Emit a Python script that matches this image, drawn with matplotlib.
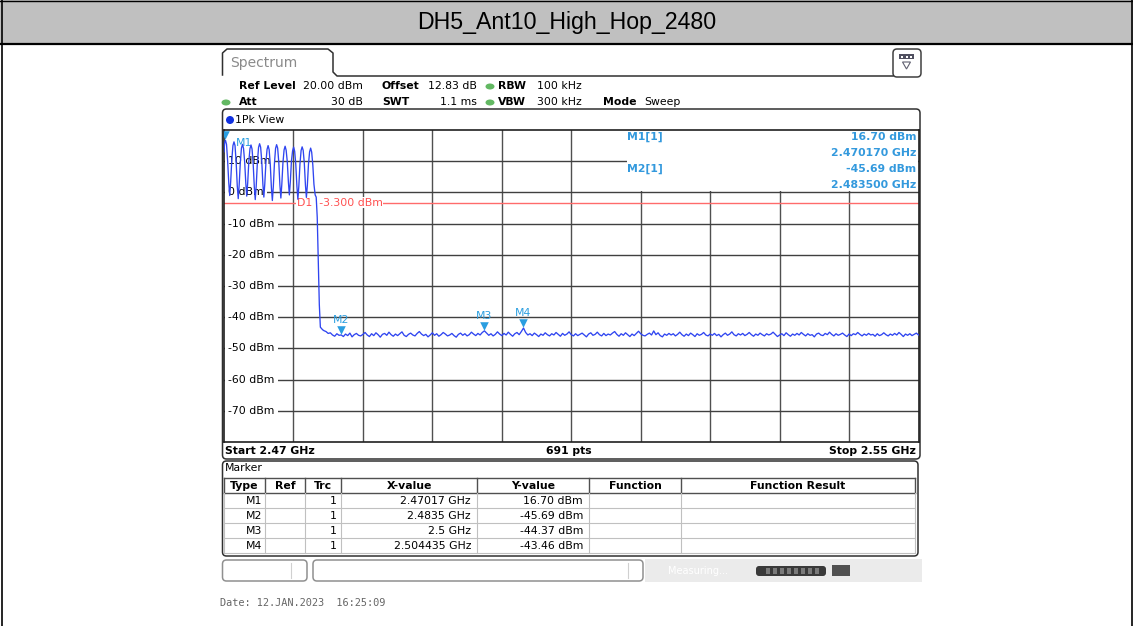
import matplotlib
matplotlib.use('Agg')
import matplotlib.pyplot as plt
import matplotlib.transforms as mtransforms
from matplotlib.patches import Rectangle, FancyBboxPatch, Ellipse, Polygon
import numpy as np

title = "DH5_Ant10_High_Hop_2480"

# sweep settings
start_ghz, stop_ghz = 2.47, 2.55
ref_level, bottom_level = 20, -80
level_ticks = [10, 0, -10, -20, -30, -40, -50, -60, -70]
d1_dbm = -3.3

# hopping channels 2470..2480 MHz, trace vertices (MHz / dBm), one row per channel
hop_mhz = [
    2470.00, 2470.07, 2470.17, 2470.29, 2470.42, 2470.55, 2470.66,
    2470.77, 2470.90, 2471.03, 2471.15, 2471.27, 2471.40, 2471.53, 2471.64,
    2471.75, 2471.88, 2472.01, 2472.13, 2472.25, 2472.38, 2472.51, 2472.62,
    2472.73, 2472.86, 2472.99, 2473.11, 2473.23, 2473.36, 2473.49, 2473.60,
    2473.71, 2473.84, 2473.98, 2474.10, 2474.22, 2474.35, 2474.48, 2474.59,
    2474.70, 2474.83, 2474.96, 2475.08, 2475.20, 2475.33, 2475.46, 2475.57,
    2475.68, 2475.81, 2475.94, 2476.06, 2476.18, 2476.31, 2476.44, 2476.55,
    2476.66, 2476.79, 2476.92, 2477.04, 2477.16, 2477.29, 2477.42, 2477.53,
    2477.64, 2477.77, 2477.90, 2478.02, 2478.14, 2478.27, 2478.40, 2478.51,
    2478.62, 2478.75, 2478.88, 2479.00, 2479.12, 2479.25, 2479.38, 2479.49,
    2479.60, 2479.73, 2479.86, 2479.98, 2480.10, 2480.23, 2480.36, 2480.50,
    2480.62, 2480.74, 2480.86, 2480.98, 2481.10, 2481.22, 2481.35]
hop_dbm = [
    13.0, 15.9, 16.7, 15.4, 10.0, 3.0, -1.0,
    3.5, 10.5, 15.0, 16.2, 15.0, 9.6, 2.0, -2.0,
    2.5, 9.6, 14.2, 15.4, 14.1, 9.8, 3.0, -1.2,
    3.1, 9.9, 14.0, 15.2, 13.9, 9.2, 1.8, -2.3,
    2.0, 9.4, 14.4, 15.6, 14.5, 10.0, 2.6, -1.5,
    2.8, 9.7, 13.8, 15.0, 13.7, 9.0, 1.5, -2.6,
    1.8, 9.3, 14.1, 15.3, 14.2, 9.7, 2.3, -1.8,
    2.6, 9.5, 13.6, 14.8, 13.5, 9.8, 3.2, -0.8,
    3.4, 10.1, 13.3, 14.5, 13.2, 8.9, 1.9, -2.2,
    2.0, 9.1, 13.4, 14.6, 13.5, 9.4, 2.4, -1.6,
    2.2, 9.0, 13.0, 14.2, 12.9, 8.8, 2.6, -0.8,
    -1.5, -8.0, -22.0, -36.0, -43.2, -43.6, -44.0]

# noise floor above the band, one reading every 0.25 MHz from 2481.5 MHz
noise_start_mhz = 2481.5
noise_step_mhz = 0.25
noise_dbm = [
    -44.3, -44.6, -45.2, -45.0, -45.7, -46.1, -45.3, -45.8, -45.69, -46.2,
    -45.4, -45.9, -45.1, -46.3, -45.6, -45.2, -45.8, -46.0, -45.5, -44.9,
    -45.7, -46.2, -45.3, -45.9, -45.0, -45.6, -46.4, -45.5, -45.2, -45.8,
    -44.8, -45.6, -46.1, -45.4, -45.9, -45.3, -44.7, -45.8, -46.2, -45.5,
    -45.1, -45.7, -46.0, -45.2, -44.6, -45.4, -45.9, -45.5, -46.3, -45.7,
    -45.0, -45.8, -45.3, -46.1, -45.6, -44.9, -45.4, -46.0, -45.7, -45.2,
    -45.9, -46.4, -45.5, -45.1, -45.8, -45.3, -46.0, -45.6, -44.8, -45.4,
    -45.9, -45.2, -45.7, -44.9, -44.37, -45.1, -45.8, -45.3, -46.0, -45.5,
    -44.7, -45.4, -45.9, -45.2, -45.7, -44.8, -45.5, -46.1, -45.3, -44.9,
    -45.6, -44.6, -43.46, -44.9, -45.7, -45.3, -45.9, -45.1, -45.6, -46.2,
    -45.4, -45.8, -45.0, -45.6, -46.0, -45.3, -45.7, -44.9, -45.5, -46.1,
    -45.2, -45.8, -45.4, -44.7, -45.6, -46.0, -45.3, -45.9, -45.5, -45.1,
    -45.7, -46.3, -45.4, -45.0, -45.8, -45.5, -44.8, -45.6, -46.0, -45.2,
    -45.9, -45.4, -45.7, -45.1, -44.6, -45.5, -46.1, -45.3, -45.8, -45.0,
    -45.6, -46.2, -45.4, -45.9, -45.2, -44.5, -45.3, -45.8, -46.0, -45.5,
    -45.1, -45.7, -44.4, -45.6, -45.0, -45.9, -46.3, -45.4, -45.8, -45.2,
    -45.7, -45.3, -46.0, -45.5, -44.8, -45.6, -46.1, -45.4, -45.9, -45.1,
    -45.6, -46.2, -45.3, -45.8, -45.5, -44.9, -45.7, -46.0, -45.4, -45.8,
    -45.2, -45.9, -45.5, -46.3, -45.6, -45.1, -45.8, -45.4, -44.7, -45.6,
    -46.0, -45.3, -45.7, -45.2, -45.9, -45.5, -44.9, -45.6, -46.1, -45.4,
    -45.8, -45.1, -45.6, -46.0, -45.3, -45.7, -45.4, -44.8, -45.5, -46.2,
    -45.7, -45.3, -45.9, -45.0, -45.6, -46.1, -45.4, -45.8, -45.2, -45.7,
    -44.9, -45.5, -46.0, -45.3, -45.8, -45.6, -46.3, -45.4, -45.1, -45.7,
    -45.9, -45.2, -45.6, -44.8, -45.5, -46.0, -45.3, -45.8, -45.5, -45.1,
    -45.7, -46.2, -45.4, -45.9, -45.3, -45.6, -44.9, -45.5, -46.0, -45.4,
    -45.8, -45.2, -45.7, -45.5, -46.1, -45.3, -45.9, -45.6, -45.0, -45.6,
    -46.0, -45.4, -45.8, -45.2, -45.7, -44.9, -45.5, -46.2, -45.4, -45.8,
    -45.3, -45.9, -45.5, -45.1, -45.7]

# marker table
marker_names = ['M1', 'M2', 'M3', 'M4']
marker_ghz = [2.47017, 2.4835, 2.5, 2.504435]
marker_dbm = [16.70, -45.69, -44.37, -43.46]

W, H = 1133, 626
TRACE = '#2f45f0'
MARK = '#2a9ee0'
INFO = '#3399dd'
RED = '#ff6b6b'
GREEN = '#62b862'
FS = 7.8

fig = plt.figure(figsize=(W / 100, H / 100), dpi=100)
bg = fig.add_axes([0, 0, 1, 1])
bg.set_xlim(0, W)
bg.set_ylim(H, 0)
bg.axis('off')


def txt(x, y, s, **kw):
    kw.setdefault('fontsize', FS)
    kw.setdefault('va', 'center')
    kw.setdefault('family', 'DejaVu Sans')
    bg.text(x, y, s, **kw)


def rbox(x0, y0, x1, y1, r=4, **kw):
    kw.setdefault('fc', 'none')
    kw.setdefault('ec', '#303030')
    kw.setdefault('lw', 1.1)
    bg.add_patch(FancyBboxPatch((x0, y0), x1 - x0, y1 - y0,
                                boxstyle=f'round,pad=0,rounding_size={r}', **kw))


# page frame + title bar
bg.add_patch(Rectangle((0, 0), W, 43, fc='#c0c0c0', ec='none'))
bg.plot([0, W], [0.5, 0.5], color='black', lw=1)
bg.plot([1.5, 1.5], [0, H], color='black', lw=1.2)
bg.plot([W - 1.5, W - 1.5], [0, H], color='black', lw=1.2)
bg.plot([0, W], [43.5, 43.5], color='black', lw=1.6)
bg.text(W / 2, 22, title, ha='center', va='center', fontsize=16.7,
        family='Liberation Sans')

# "Spectrum" tab and the line running to the menu icon
tab = [(222.5, 75), (222.5, 53), (227, 49), (328, 49), (333, 53),
       (333, 72), (337, 76), (893, 76)]
bg.plot(*zip(*tab), color='#303030', lw=1.1)
txt(230, 63, 'Spectrum', fontsize=10, color='#8a8a8a')
rbox(893, 49, 921, 77, r=4, ec='#404040')
bg.add_patch(Rectangle((899, 54), 15, 5, fc='#505060', ec='none'))
for xd in (902, 906.5, 911):
    bg.add_patch(Rectangle((xd - 1, 55.5), 2, 2, fc='white', ec='none'))
bg.add_patch(Polygon([(902.5, 62), (910.5, 62), (906.5, 69)], closed=True,
                     fc='white', ec='#606070', lw=0.8))

# setting rows
txt(239, 86, 'Ref Level', weight='bold')
txt(303, 86, '20.00 dBm')
txt(382, 86, 'Offset', weight='bold')
txt(428, 86, '12.83 dB')
bg.add_patch(Ellipse((490, 86.5), 9, 6, fc=GREEN, ec='none'))
txt(498, 86, 'RBW', weight='bold')
txt(537, 86, '100 kHz')
bg.add_patch(Ellipse((226, 102.5), 9, 6, fc=GREEN, ec='none'))
txt(239, 102, 'Att', weight='bold')
txt(363, 102, '30 dB', ha='right')
txt(382, 102, 'SWT', weight='bold')
txt(477, 102, '1.1 ms', ha='right')
bg.add_patch(Ellipse((490, 102.5), 9, 6, fc=GREEN, ec='none'))
txt(498, 102, 'VBW', weight='bold')
txt(537, 102, '300 kHz')
txt(603, 102, 'Mode', weight='bold')
txt(644, 102, 'Sweep')

# trace window
rbox(222.5, 109, 920, 459, r=4)
bg.add_patch(Ellipse((230, 120), 8, 8, fc='#1030e0', ec='none'))
txt(235, 120, '1Pk View')
txt(225, 451, f'Start {start_ghz:g} GHz', weight='bold')
txt(569, 451, '691 pts', weight='bold', ha='center')
txt(916, 451, f'Stop {stop_ghz:g} GHz', weight='bold', ha='right')

# spectrum graticule
ax = fig.add_axes([224 / W, 1 - 442 / H, 694.5 / W, 312 / H])
ax.set_xlim(start_ghz, stop_ghz)
ax.set_ylim(bottom_level, ref_level)
ax.set_xticks([])
ax.set_yticks([])
for sp in ax.spines.values():
    sp.set_linewidth(1.2)
    sp.set_color('#202020')
bg.set_zorder(0)
ax.set_zorder(1)
ax.patch.set_alpha(0)

span = stop_ghz - start_ghz
for k in range(1, 10):
    ax.axvline(start_ghz + k * span / 10, color='#505050', lw=1, zorder=1)
for lv in level_ticks:
    ax.axhline(lv, color='#404040', lw=1, zorder=1)

lab_tr = mtransforms.offset_copy(ax.transData, fig=fig, x=4.5, y=0, units='dots')
for lv in level_ticks:
    ax.text(start_ghz, lv, f'{lv} dBm', transform=lab_tr, fontsize=FS,
            va='center', ha='left', zorder=3,
            bbox=dict(fc='white', ec='none', pad=2.4))

# marker readout block in the top right corner
ax.add_patch(Rectangle((2.5164, 0.5), stop_ghz - 2.5164, ref_level - 0.5,
                       fc='white', ec='none', zorder=2))

# display line
ax.axhline(d1_dbm, color=RED, lw=1, zorder=2.5)
ax.text(2.4784, d1_dbm, f'D1  {d1_dbm:.3f} dBm', color='#ff5050', fontsize=FS,
        va='center', ha='left', zorder=3,
        bbox=dict(fc='white', ec='none', pad=0.3))

# trace
hop_ghz = np.array(hop_mhz) / 1000
noise_ghz = (noise_start_mhz + noise_step_mhz * np.arange(len(noise_dbm))) / 1000
trace_ghz = np.concatenate([hop_ghz, noise_ghz])
trace_dbm = np.concatenate([hop_dbm, noise_dbm])
ax.plot(trace_ghz, trace_dbm, color=TRACE, lw=0.95, zorder=4)

# markers
tri_tr = mtransforms.offset_copy(ax.transData, fig=fig, x=0, y=5, units='dots')
ax.scatter(marker_ghz, marker_dbm, marker='v', s=38, color=MARK,
           transform=tri_tr, zorder=5, linewidths=0, clip_on=True)
for i, (name, f, lv) in enumerate(zip(marker_names, marker_ghz, marker_dbm)):
    if i == 0:
        tr = mtransforms.offset_copy(ax.transData, fig=fig, x=10, y=-3, units='dots')
        ax.text(f, lv, name, transform=tr, color=MARK, fontsize=FS,
                ha='left', va='center', zorder=3.5)
    else:
        tr = mtransforms.offset_copy(ax.transData, fig=fig, x=0, y=15, units='dots')
        ax.text(f, lv, name, transform=tr, color=MARK, fontsize=FS,
                ha='center', va='center', zorder=5)

# marker readout text (figure level so it sits above the graticule)
for row, i in enumerate([0, 1]):
    ytop = 137 + row * 32
    for xpx, s, ha, yy in [(627, f'{marker_names[i]}[1]', 'left', ytop),
                           (916, f'{marker_dbm[i]:.2f} dBm', 'right', ytop),
                           (916, f'{marker_ghz[i]:.6f} GHz', 'right', ytop + 16)]:
        fig.text(xpx / W, 1 - yy / H, s, color=INFO, weight='bold', fontsize=FS,
                 ha=ha, va='center', zorder=10)

# marker table window
rbox(222.5, 461, 918, 556, r=4)
txt(225, 468, 'Marker')
cols = [224, 265, 305, 341, 477, 589, 681, 915]
headers = ['Type', 'Ref', 'Trc', 'X-value', 'Y-value', 'Function', 'Function Result']
row_y = [478, 493, 508, 523, 538, 553]
bg.plot([cols[0], cols[-1]], [row_y[0], row_y[0]], color='#505050', lw=1)
bg.plot([cols[0], cols[-1]], [row_y[1], row_y[1]], color='#505050', lw=1)
for yl in row_y[2:]:
    bg.plot([cols[0], cols[-1]], [yl, yl], color='#c0c0c0', lw=0.8)
for xc in cols:
    bg.plot([xc, xc], [row_y[0], row_y[1]], color='#505050', lw=1)
    bg.plot([xc, xc], [row_y[1], row_y[-1]], color='#c0c0c0', lw=0.8)
for k, hd in enumerate(headers):
    txt((cols[k] + cols[k + 1]) / 2, 486, hd, weight='bold', ha='center')
for r, (name, f, lv) in enumerate(zip(marker_names, marker_ghz, marker_dbm)):
    yy = 500.5 + r * 15.2
    txt(cols[1] - 3, yy, name, ha='right')
    txt(cols[3] - 4, yy, '1', ha='right')
    txt(cols[4] - 6, yy, f'{f} GHz', ha='right')
    txt(cols[5] - 6, yy, f'{lv:.2f} dBm', ha='right')

# status bar
rbox(222.5, 560, 307, 581, r=4, ec='#909090')
rbox(313, 560, 643, 581, r=4, ec='#909090')
bg.plot([291, 291], [563, 578], color='#d0d0d0', lw=0.8)
bg.plot([628, 628], [563, 578], color='#d0d0d0', lw=0.8)
bg.add_patch(Rectangle((645, 559), 277, 23, fc='#ebebeb', ec='none'))
txt(668, 571, 'Measuring...', color='white', fontsize=7)
bg.add_patch(FancyBboxPatch((756, 566), 70, 10, boxstyle='round,pad=0,rounding_size=3',
                            fc='#3a3a3a', ec='none'))
for xs in range(766, 820, 7):
    bg.add_patch(Rectangle((xs, 568), 4, 6, fc='#7a7a7a', ec='none'))
bg.add_patch(Rectangle((832, 565), 18, 11, fc='#505050', ec='none'))

# timestamp
txt(220, 603, 'Date: 12.JAN.2023  16:25:09', family='DejaVu Sans Mono',
    fontsize=7.4, color='#666666')

fig.savefig('out.png', dpi=100)
